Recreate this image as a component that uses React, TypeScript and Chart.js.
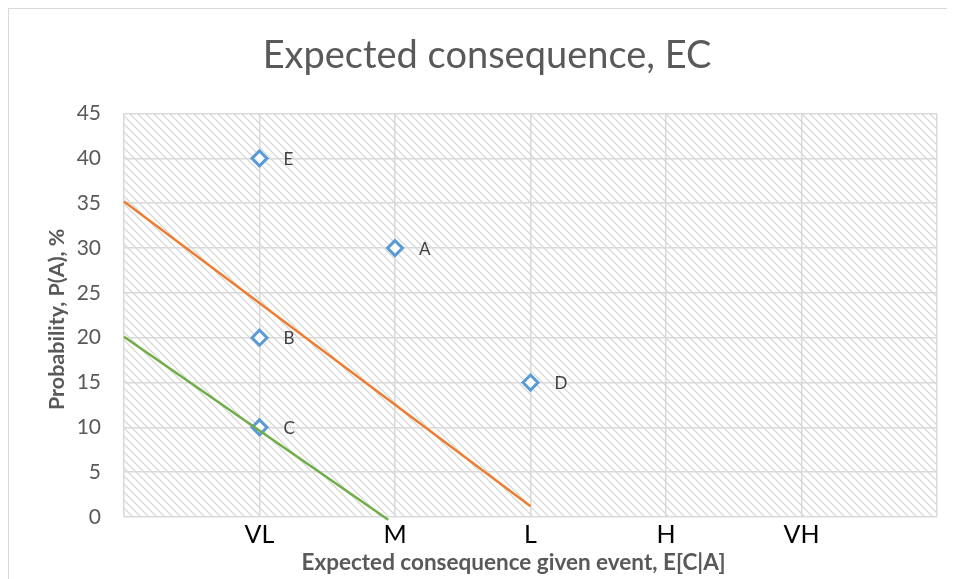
import React, { useEffect, useRef } from "react";
import { Chart, registerables } from "chart.js";

Chart.register(...registerables);

const xCategoryLabels = ["", "VL", "M", "L", "H", "VH", ""];
const pointNames = ["E", "A", "B", "C", "D"];
const pointX = [1, 2, 1, 1, 3];
const pointY = [40, 30, 20, 10, 15];
const orangeX = [0, 3];
const orangeY = [35.2, 1.2];
const greenX = [0, 1.95];
const greenY = [20.1, -0.3];
const chartTitle = "Expected consequence, EC";
const xTitle = "Expected consequence given event, E[C|A]";
const yTitle = "Probability, P(A), %";

const FONT = "Lato, 'Open Sans', sans-serif";

function makeHatch(): CanvasPattern | string {
  const tile = document.createElement("canvas");
  tile.width = 8;
  tile.height = 8;
  const t = tile.getContext("2d");
  if (!t) return "#eeeeee";
  t.fillStyle = "#ffffff";
  t.fillRect(0, 0, 8, 8);
  t.strokeStyle = "#d9d9d9";
  t.lineWidth = 1.3;
  for (const c of [-8, 0, 8]) {
    t.beginPath();
    t.moveTo(-1, -1 + c);
    t.lineTo(9, 9 + c);
    t.stroke();
  }
  const p = t.createPattern(tile, "repeat");
  return p || "#eeeeee";
}

export default function App() {
  const ref = useRef<HTMLCanvasElement | null>(null);

  useEffect(() => {
    if (!ref.current) return;
    const hatch = makeHatch();

    const bgPlugin = {
      id: "hatchBg",
      beforeDraw(chart: any) {
        const { ctx, chartArea } = chart;
        if (!chartArea) return;
        ctx.save();
        ctx.fillStyle = hatch;
        ctx.fillRect(chartArea.left, chartArea.top, chartArea.right - chartArea.left, chartArea.bottom - chartArea.top);
        ctx.restore();
      },
    };

    const axisTitlePlugin = {
      id: "axisTitles",
      afterDraw(chart: any) {
        const { ctx, chartArea } = chart;
        ctx.save();
        ctx.fillStyle = "#595959";
        ctx.textAlign = "center";
        ctx.textBaseline = "middle";
        ctx.font = `bold 22.5px ${FONT}`;
        const cx = (chartArea.left + chartArea.right) / 2 - 17;
        ctx.fillText(xTitle, cx, chartArea.bottom + 46);
        ctx.translate(48, (chartArea.top + chartArea.bottom) / 2 + 4);
        ctx.rotate(-Math.PI / 2);
        ctx.font = `bold 21.5px ${FONT}`;
        ctx.fillText(yTitle, 0, 0);
        ctx.restore();
      },
    };

    const labelPlugin = {
      id: "pointNames",
      afterDatasetsDraw(chart: any) {
        const meta = chart.getDatasetMeta(2);
        const { ctx } = chart;
        ctx.save();
        ctx.fillStyle = "#404040";
        ctx.font = `17px ${FONT}`;
        ctx.textAlign = "left";
        ctx.textBaseline = "middle";
        meta.data.forEach((el: any, i: number) => {
          ctx.fillText(pointNames[i], el.x + 24, el.y + 1);
        });
        ctx.restore();
      },
    };

    const chart = new Chart(ref.current, {
      type: "scatter",
      data: {
        datasets: [
          {
            label: "orange",
            data: orangeX.map((x, i) => ({ x, y: orangeY[i] })),
            showLine: true,
            borderColor: "#ed7d31",
            borderWidth: 2.5,
            pointRadius: 0,
            clip: false as any,
          },
          {
            label: "green",
            data: greenX.map((x, i) => ({ x, y: greenY[i] })),
            showLine: true,
            borderColor: "#70ad47",
            borderWidth: 2.5,
            pointRadius: 0,
            clip: false as any,
          },
          {
            label: "points",
            data: pointX.map((x, i) => ({ x, y: pointY[i] })),
            pointStyle: "rectRot",
            pointRadius: 7.5,
            borderColor: "#5b9bd5",
            backgroundColor: "#ffffff",
            borderWidth: 3,
          },
        ],
      },
      options: {
        animation: false,
        responsive: true,
        maintainAspectRatio: false,
        layout: { padding: { left: 28, right: 18, top: 0, bottom: 0 } },
        plugins: {
          legend: { display: false },
          tooltip: { enabled: false },
          title: {
            display: true,
            text: chartTitle,
            color: "#595959",
            font: { family: FONT, size: 38, weight: "normal" },
            padding: { top: 24, bottom: 35 },
          },
        },
        scales: {
          x: {
            type: "linear",
            min: 0,
            max: 6,
            afterFit(scale: any) {
              scale.height = 62;
            },
            ticks: {
              stepSize: 1,
              color: "#000000",
              font: { family: FONT, size: 25 },
              padding: 3,
              maxRotation: 0,
              autoSkip: false,
              callback: (v: any) => xCategoryLabels[Math.round(Number(v))] ?? "",
            },
            grid: { color: "#d9d9d9", lineWidth: 1.5, drawTicks: false },
            border: { display: false },
          },
          y: {
            min: 0,
            max: 45,
            afterFit(scale: any) {
              scale.width = 87;
            },
            ticks: {
              stepSize: 5,
              color: "#595959",
              font: { family: FONT, size: 21 },
              padding: 23,
            },
            grid: { color: "#d9d9d9", lineWidth: 1.5, drawTicks: false },
            border: { display: false },
          },
        },
      },
      plugins: [bgPlugin, labelPlugin, axisTitlePlugin],
    } as any);

    return () => chart.destroy();
  }, []);

  return (
    <div
      style={{
        width: 947,
        height: 571,
        boxSizing: "border-box",
        borderTop: "1px solid #d9d9d9",
        borderLeft: "1px solid #d9d9d9",
        position: "relative",
        overflow: "hidden",
      }}
    >
      <div style={{ position: "relative", width: 946, height: 570 }}>
        <canvas ref={ref} />
      </div>
    </div>
  );
}
